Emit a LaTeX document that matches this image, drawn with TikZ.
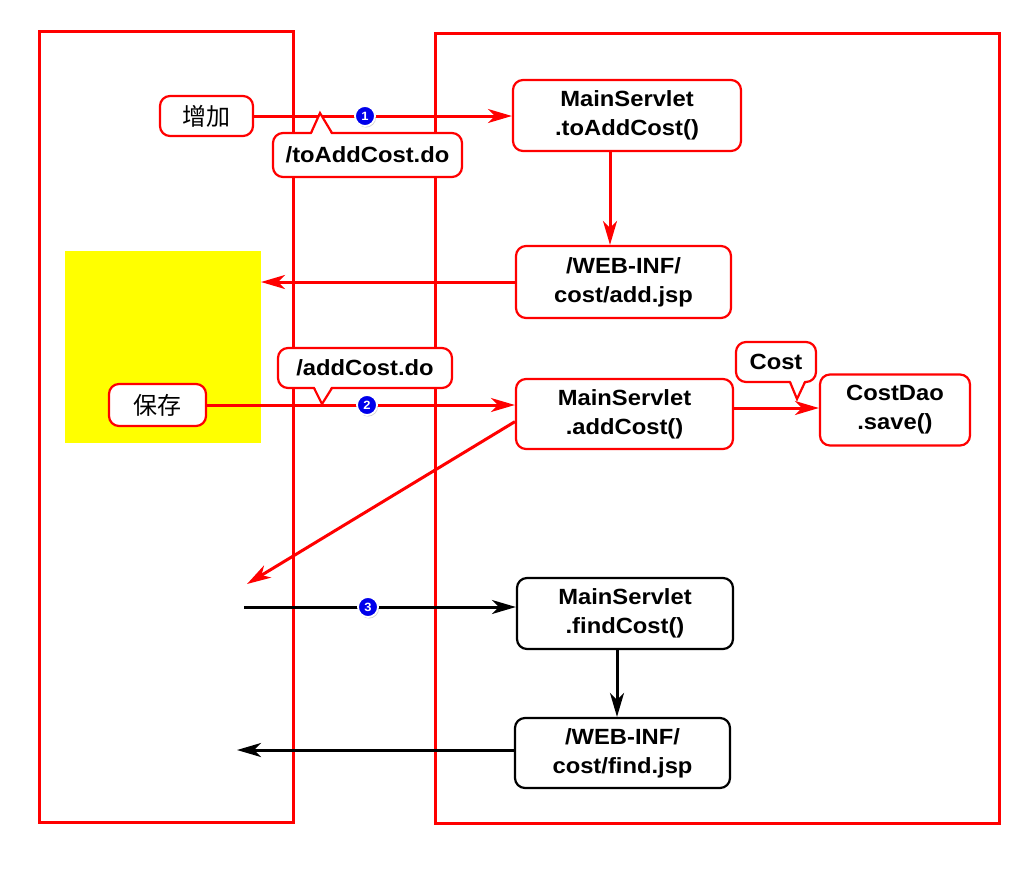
\documentclass[tikz,border=0pt]{standalone}
\usepackage{fontspec}
\setmainfont{Liberation Sans}[FakeStretch=1.08]
\newfontfamily\cjk{Noto Sans CJK SC}
\usetikzlibrary{arrows.meta,shadows}
\definecolor{myred}{RGB}{255,0,0}
\definecolor{myblue}{RGB}{0,0,235}
\definecolor{myyellow}{RGB}{255,255,0}
\tikzset{
  box/.style={draw=myred, line width=2.2pt, rounded corners=10pt, fill=white, align=center, inner sep=0pt,
    font=\fontsize{22}{29}\selectfont\bfseries},
  bbox/.style={box, draw=black},
  cnbox/.style={box, font=\fontsize{24}{26}\selectfont\cjk},
  frame/.style={draw=myred, line width=3pt},
  arr/.style={-{Stealth[length=24pt,width=14pt,inset=7pt]}, line width=3pt, draw=myred},
  barr/.style={arr, draw=black},
  ptr/.style={draw=myred, line width=2.2pt, line join=miter},
  num/.style={circle, fill=myblue, draw=white, line width=1.8pt, minimum size=20pt, inner sep=0pt,
    text=white, font=\fontsize{12}{12}\selectfont\bfseries,
    drop shadow={shadow xshift=1pt, shadow yshift=-1.5pt, opacity=0.35}}
}
\begin{document}
\begin{tikzpicture}[x=1pt,y=-1pt]
\useasboundingbox (0,0) rectangle (1024,873);
% frames
\draw[frame] (39,31) rectangle (293,822);
\draw[frame] (435,33) rectangle (999,823);
\fill[myyellow] (65,251) rectangle (261,443);
% nodes
\node[cnbox, minimum width=93pt, minimum height=40pt] (zeng) at (206.5,116) {增加};
\node[box, minimum width=189pt, minimum height=44pt] (cb1) at (367.5,155) {/toAddCost.do};
\node[box, minimum width=228pt, minimum height=71pt] (ms1) at (627,115.5) {MainServlet\\.toAddCost()};
\node[box, minimum width=215pt, minimum height=72pt] (add) at (623.5,282) {/WEB-INF/\\cost/add.jsp};
\node[box, minimum width=174pt, minimum height=40pt] (cb2) at (365,368) {/addCost.do};
\node[cnbox, minimum width=97pt, minimum height=42pt] (baocun) at (157.5,405) {保存};
\node[box, minimum width=217pt, minimum height=70pt] (ms2) at (624.5,414) {MainServlet\\.addCost()};
\node[box, minimum width=80pt, minimum height=40pt] (cb3) at (776,362) {Cost};
\node[box, minimum width=150pt, minimum height=71pt] (dao) at (895,410) {CostDao\\.save()};
\node[bbox, minimum width=216pt, minimum height=71pt] (ms3) at (625,613.5) {MainServlet\\.findCost()};
\node[bbox, minimum width=215pt, minimum height=70pt] (find) at (622.5,753) {/WEB-INF/\\cost/find.jsp};
% free ends
\coordinate (ret1) at (261,282);
\coordinate (ret2) at (247,584);
\coordinate (s3) at (244,607);
\coordinate (ret3) at (237,750);
% connectors
\draw[arr] (zeng.east) -- (zeng.east -| ms1.west);
\draw[arr] ([xshift=-17pt]ms1.south) -- ([xshift=-17pt]ms1.south |- add.north);
\draw[arr] (add.west) -- (ret1);
\draw[arr] (baocun.east) -- (baocun.east -| ms2.west);
\draw[arr] ([yshift=2pt]ms2.east |- dao.west) -- ([yshift=2pt]dao.west);
\draw[arr] (ms2.184) -- (ret2);
\draw[barr] (s3) -- (s3 -| ms3.west);
\draw[barr] ([xshift=-8pt]ms3.south) -- ([xshift=-8pt]ms3.south |- find.north);
\draw[barr] (find.west |- ret3) -- (ret3);
% callout pointers
\fill[white] (311,136) -- (320,113) -- (332,136) -- cycle;
\draw[ptr] (311,133) -- (320,113) -- (332,133);
\fill[white] (314,385) -- (322,404) -- (332,385) -- cycle;
\draw[ptr] (314,388) -- (322,404) -- (332,388);
\fill[white] (790,379) -- (797,399) -- (805,379) -- cycle;
\draw[ptr] (790,382) -- (797,399) -- (805,382);
% numbers
\node[num] (n1) at (365,116) {1};
\node[num] (n2) at (367,405) {2};
\node[num] (n3) at (368,607) {3};
\end{tikzpicture}
\end{document}
